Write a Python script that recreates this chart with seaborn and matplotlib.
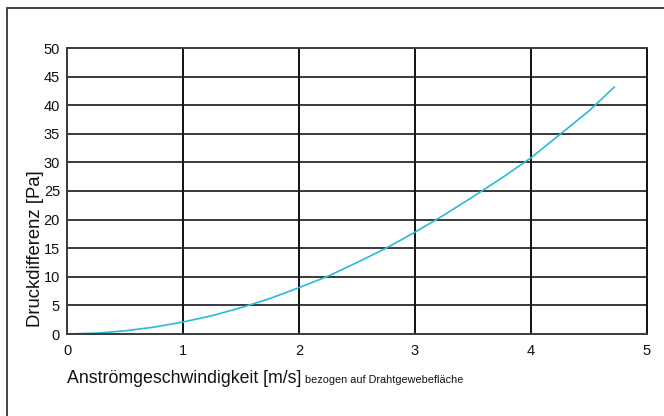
import matplotlib
matplotlib.use("Agg")
import matplotlib.pyplot as plt
from matplotlib.lines import Line2D
import seaborn as sns
import pandas as pd

# Data
velocity = [0, 0.25, 0.5, 0.75, 1.0, 1.25, 1.5, 1.75, 2.0, 2.25, 2.5, 2.75,
            3.0, 3.25, 3.5, 3.75, 4.0, 4.25, 4.5, 4.72]
pressure = [0, 0.15, 0.55, 1.2, 2.1, 3.2, 4.6, 6.2, 8.1, 10.1, 12.5, 15.0,
            17.8, 20.8, 24.0, 27.3, 30.8, 34.9, 39.0, 43.2]
x_ticks = [0, 1, 2, 3, 4, 5]
y_ticks = [0, 5, 10, 15, 20, 25, 30, 35, 40, 45, 50]

x_label = "Anströmgeschwindigkeit [m/s]"
x_note = "bezogen auf Drahtgewebefläche"
y_label = "Druckdifferenz [Pa]"

sns.set_theme(style="white")
plt.rcParams['font.family'] = ['Liberation Sans', 'DejaVu Sans']

df = pd.DataFrame({"v": velocity, "p": pressure})

W, H = 664, 416
fig = plt.figure(figsize=(W / 100, H / 100), dpi=100)
ax = fig.add_axes([67 / W, 1 - 334 / H, (647 - 67) / W, (334 - 48) / H])

sns.lineplot(data=df, x="v", y="p", ax=ax, color="#2bb9d9", linewidth=1.2)

ax.set_xlim(0, 5)
ax.set_ylim(0, 50)
ax.set_xticks(x_ticks)
ax.set_yticks(y_ticks)
ax.set_xticklabels([str(t) for t in x_ticks])
ax.set_yticklabels([str(t) for t in y_ticks])
ax.tick_params(axis="both", length=0, labelsize=10.5, colors="#111111")
ax.tick_params(axis="y", pad=5)
ax.tick_params(axis="x", pad=7.5)
ax.set_xlabel("")
ax.set_ylabel("")

for t in y_ticks[1:-1]:
    ax.axhline(t, color="#3a3a3a", linewidth=1.4, zorder=1)
for t in x_ticks[1:-1]:
    ax.axvline(t, color="#111111", linewidth=1.4, zorder=1)

for side, sp in ax.spines.items():
    sp.set_visible(True)
    sp.set_linewidth(1.4)
    sp.set_color("#3a3a3a")
ax.spines["right"].set_color("#111111")

# Figure frame (top and left only)
fig.add_artist(Line2D([6.5 / W, 6.5 / W], [0, 1 - 7.5 / H], transform=fig.transFigure,
                      color="#444444", linewidth=1.4))
fig.add_artist(Line2D([6.5 / W, 1], [1 - 7.5 / H, 1 - 7.5 / H], transform=fig.transFigure,
                      color="#444444", linewidth=1.4))

# Axis labels
fig.text(36 / W, 1 - 327 / H, y_label, rotation=90, ha="center", va="bottom",
         fontsize=13.3, color="#111111")
t1 = fig.text(67 / W, 1 - 383 / H, x_label, ha="left", va="baseline",
              fontsize=12.8, color="#111111")
fig.canvas.draw()
bb = t1.get_window_extent()
fig.text((bb.x1 + 4) / W, 1 - 383 / H, x_note, ha="left", va="baseline",
         fontsize=7.8, color="#111111")

fig.savefig("out.png", dpi=100)
